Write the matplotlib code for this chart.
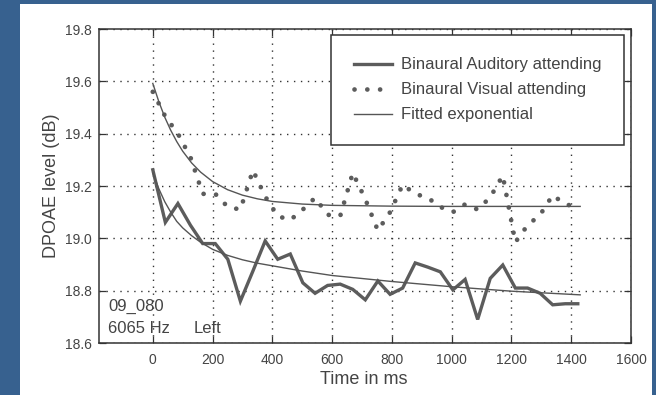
import numpy as np
import matplotlib
matplotlib.use("Agg")
import matplotlib.pyplot as plt
from matplotlib.patches import Rectangle

plt.rcParams['font.family'] = ['Liberation Sans', 'DejaVu Sans']

# time axis of the recordings (ms)
time_ms = [0, 42, 84, 126, 167, 209, 251, 293, 335, 376, 418, 460, 502, 543,
           585, 627, 669, 711, 753, 794, 836, 878, 920, 962, 1004, 1045,
           1087, 1129, 1171, 1213, 1254, 1296, 1338, 1380, 1422]

auditory = [19.262, 19.061, 19.133, 19.05, 18.98, 18.98, 18.92, 18.76, 18.875,
            18.99, 18.92, 18.94, 18.83, 18.79, 18.82, 18.825, 18.805, 18.765,
            18.837, 18.786, 18.81, 18.906, 18.89, 18.872, 18.803, 18.843,
            18.69, 18.847, 18.898, 18.81, 18.81, 18.79, 18.746, 18.75, 18.75]

visual = [19.56, 19.465, 19.40, 19.31, 19.17, 19.17, 19.12, 19.11, 19.26,
          19.16, 19.085, 19.07, 19.11, 19.155, 19.09, 19.085, 19.25, 19.15,
          19.03, 19.10, 19.205, 19.17, 19.155, 19.12, 19.10, 19.13, 19.11,
          19.157, 19.24, 18.985, 19.05, 19.09, 19.165, 19.13, 19.12]

# fitted curves
fit_t = [0, 20, 40, 60, 80, 100, 130, 160, 200, 250, 300, 350, 400, 500,
         600, 800, 1000, 1200, 1430]
fit_visual = [19.592, 19.523, 19.463, 19.413, 19.370, 19.333, 19.288, 19.253,
              19.217, 19.186, 19.165, 19.151, 19.141, 19.131, 19.126, 19.123,
              19.122, 19.122, 19.122]
fit_auditory = [19.25, 19.19, 19.14, 19.10, 19.065, 19.04, 19.01, 18.985,
                18.958, 18.935, 18.918, 18.905, 18.895, 18.875, 18.858,
                18.835, 18.815, 18.798, 18.784]

xticks = [0, 200, 400, 600, 800, 1000, 1200, 1400, 1600]
yticks = [18.6, 18.8, 19.0, 19.2, 19.4, 19.6, 19.8]

W, H = 656, 395
fig = plt.figure(figsize=(W / 100, H / 100), dpi=100)
fig.patch.set_facecolor('#37618f')
fig.patches.append(Rectangle((20 / W, 0), 632 / W, 391 / H,
                             transform=fig.transFigure, facecolor='white',
                             edgecolor='none', zorder=-10))

ax = fig.add_axes([99 / W, 52 / H, 532 / W, 314 / H])
ax.set_facecolor('white')

gray = '#5c5c5c'
ax.plot(time_ms, auditory, color=gray, lw=2.4, solid_joinstyle='miter',
        label='Binaural Auditory attending', zorder=3)
ax.plot(time_ms, visual, color=gray, lw=3.4, linestyle=(0, (0.01, 2.7)),
        dash_capstyle='round', label='Binaural Visual attending', zorder=3)
ax.plot(fit_t, fit_visual, color='#555555', lw=1.0,
        label='Fitted exponential', zorder=4)
ax.plot(fit_t, fit_auditory, color='#555555', lw=1.0, zorder=4)

ax.set_xlim(-180, 1600)
ax.set_ylim(18.6, 19.8)
ax.set_xticks(xticks)
ax.set_yticks(yticks)
ax.set_yticklabels(['%.1f' % v for v in yticks])
ax.tick_params(direction='in', top=True, right=True, length=5, width=0.9,
               color='#333333', labelsize=10, labelcolor='#444444')
ax.tick_params(axis='x', pad=7)
ax.tick_params(axis='y', pad=5)
ax.grid(True, linestyle=(0, (1, 4)), color='#333333', lw=1.0)
for s in ax.spines.values():
    s.set_color('#333333')
    s.set_linewidth(1.1)

ax.set_xlabel('Time in ms', fontsize=13, color='#444444', va='center')
ax.xaxis.set_label_coords(0.498, -36 / 314)
ax.set_ylabel('DPOAE level (dB)', fontsize=13, color='#444444', va='center')
ax.yaxis.set_label_coords(-48 / 532, 0.5)

ax.text(0.017, 0.115, '09_080', transform=ax.transAxes, fontsize=12,
        color='#444444', va='center')
ax.text(0.017, 0.045, '6065 Hz', transform=ax.transAxes, fontsize=12,
        color='#444444', va='center')
ax.text(0.177, 0.045, 'Left', transform=ax.transAxes, fontsize=12,
        color='#444444', va='center')

leg = ax.legend(loc='upper right', bbox_to_anchor=(0.987, 0.981), fontsize=12,
                frameon=True, fancybox=False, framealpha=1, borderpad=1.35,
                handlelength=2.3, handletextpad=0.55, labelspacing=0.6,
                borderaxespad=0)
leg.get_frame().set_edgecolor('#333333')
leg.get_frame().set_linewidth(1.1)
for t in leg.get_texts():
    t.set_color('#444444')

fig.savefig('out.png', dpi=100, facecolor=fig.get_facecolor())
